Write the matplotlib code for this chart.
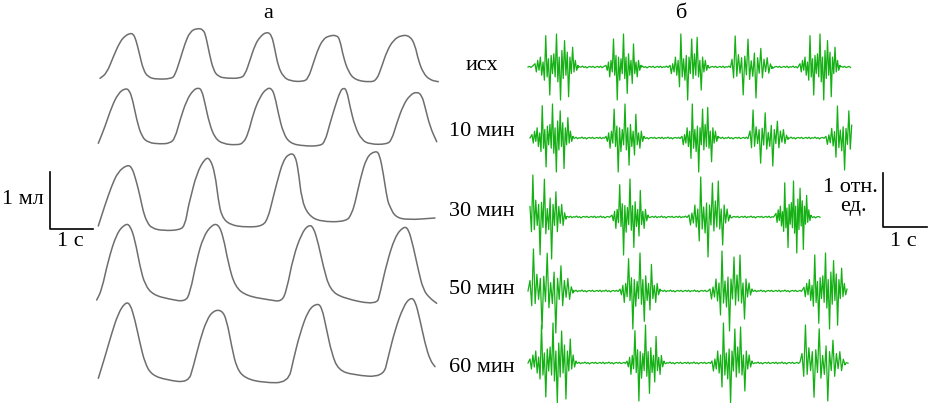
import numpy as np
import matplotlib
matplotlib.use("Agg")
import matplotlib.pyplot as plt
from matplotlib.path import Path
from matplotlib.patches import PathPatch

# ---- panel "а": breathing volume traces (x, y, px) ----
resp_x = [
    [100, 106.7, 113.3, 120, 125, 130, 133.3, 136, 139.3, 143.3, 148.3, 156.7, 171.7, 175, 180, 185, 190,
     196.7, 203.3, 206, 209.3, 213.3, 218.3, 226.7, 240, 245, 250, 255, 260, 266.7, 271.7, 275, 278.3,
     283.3, 290, 303.3, 308.3, 313.3, 318.3, 323.3, 328.3, 336.7, 340, 343.3, 348.3, 355, 370, 376.7,
     381.7, 386.7, 393.3, 401.7, 410, 415, 418.3, 423.3, 430, 438.3],
    [98.3, 105, 111.7, 118.3, 125, 129.3, 132.7, 136.7, 141.7, 148.3, 160, 170, 175, 180, 186.7, 193.3,
     198.3, 201.7, 205, 209.3, 215, 223.3, 236.7, 243.3, 248.3, 253.3, 260, 266.7, 271.7, 275, 278.3,
     283.3, 290, 303.3, 320, 325, 330, 335, 340, 343.3, 346.7, 350, 355, 361.7, 370, 386.7, 391.7, 396.7,
     403.3, 410, 416.7, 421.7, 425, 430, 436.7],
    [98.3, 105, 112, 118, 126.7, 131.7, 136, 140, 143.3, 147, 151.7, 163.3, 180, 185, 188.3, 190, 196.7,
     205, 210, 215, 218.3, 221.7, 230, 246.7, 263.3, 268.3, 271.7, 276.7, 283.3, 290, 295, 298.3, 301.7,
     308.3, 320, 346.7, 351.7, 355, 360, 366.7, 375, 379.3, 383.3, 387.3, 390, 395, 406.7, 435],
    [96.7, 101.7, 108.3, 116.7, 125, 130, 135, 140, 145, 153.3, 170, 185, 190, 196.7, 203.3, 211.7, 218.3,
     223.3, 228.3, 235, 246.7, 270, 281.7, 286.7, 293.3, 301.7, 308.3, 313.3, 318.3, 323.3, 330, 343.3,
     376.7, 380, 386.7, 395, 403.3, 408.3, 413.3, 418.3, 423.3, 430, 436.7],
    [98.3, 105, 111.7, 118.3, 125, 130, 135, 140, 145, 151.7, 166.7, 188.3, 193.3, 200, 206.7, 213.3,
     221.7, 226.7, 231.7, 236.7, 245, 263.3, 288.3, 293.3, 300, 308.3, 316.7, 321.7, 326.7, 331.7, 338.3,
     353.3, 383.3, 388.3, 395, 403.3, 410, 415, 420, 425, 430, 435],
]
resp_y = [
    [78.3, 73.3, 56.7, 41.7, 36, 33.3, 34, 40, 53.3, 70, 77.3, 79.3, 78.7, 75, 60, 43.3, 31.7, 28.3, 29.3,
     36.7, 53.3, 70, 76.7, 78.3, 78.3, 75, 60, 45, 36.7, 31.7, 35, 50, 66.7, 76.7, 81, 81.7, 78.3, 63.3,
     48.3, 39.3, 36, 35, 40, 56.7, 71.7, 80, 82.3, 80, 66.7, 51.7, 40, 35, 36, 45, 60, 73.3, 80, 81.7],
    [143.3, 126.7, 106.7, 93.3, 88.3, 90, 100, 120, 136.7, 142.7, 144, 143.3, 138.3, 120, 100, 90, 87.7,
     90, 103.3, 123.3, 138.3, 144, 145, 143.3, 133.3, 113.3, 96.7, 88.3, 88.3, 96.7, 113.3, 133.3, 143.3,
     146, 146, 141.7, 123.3, 106.7, 91.7, 87.7, 90, 106.7, 126.7, 140, 144.3, 144.3, 140, 123.3, 105, 95,
     91.7, 95, 106.7, 126.7, 141.7],
    [226, 205, 185, 172, 165, 166.7, 180, 196, 212, 222, 228.3, 230.7, 230, 225, 206.7, 200, 173.3, 158.3,
     158.3, 173.3, 200, 216.7, 225, 227.3, 226, 216.7, 203.3, 183.3, 160, 153.3, 155, 170, 200, 215, 221.7,
     221.7, 213.3, 203.3, 180, 156.7, 151, 153.3, 173.3, 200, 206.7, 216.7, 220, 218],
    [300, 290, 260, 233.3, 224, 225, 240, 266.7, 285, 295, 299.3, 301.7, 293.3, 260, 236.7, 225, 224,
     236.7, 263.3, 286.7, 296, 300, 301.7, 290, 256.7, 233.3, 225, 226.7, 243.3, 266.7, 290, 298.3, 305,
     293.3, 263.3, 236.7, 226.7, 228.3, 246.7, 270, 290, 298.3, 303.3],
    [378.3, 356.7, 333.3, 313.3, 302.7, 303.3, 320, 343.3, 363.3, 375, 380, 382.7, 366.7, 340, 320, 310.7,
     310, 320, 346.7, 368.3, 378.3, 382.7, 382.7, 360, 333.3, 310, 303.3, 306.7, 330, 353.3, 370, 375,
     377.3, 356.7, 330, 306.7, 297.7, 300, 320, 343.3, 360, 366.7],
]

# ---- panel "б": EMG traces ----
row_labels = ["исх", "10 мин", "30 мин", "50 мин", "60 мин"]
label_y = [65, 132, 212, 290, 367]
emg_base = [67, 138, 217, 291, 363]
emg_start = [528, 530, 530, 528, 528]
emg_end = [852, 852, 822, 848, 850]
# bursts: (start, end, amplitude, template)
emg_bursts = [
    [(535, 578, 33, 0), (606, 641, 33, 1), (670, 708, 33, 3), (732, 772, 31, 2), (800, 840, 33, 0)],
    [(532, 573, 34, 0), (606, 644, 34, 1), (682, 718, 34, 3), (750, 788, 28, 2), (826, 866, 32, 3)],
    [(530, 566, 42, 2), (612, 648, 38, 1), (689, 730, 40, 3), (776, 811, 36, 0)],
    [(530, 573, 42, 2), (620, 660, 38, 1), (710, 752, 40, 3), (804, 847, 38, 0)],
    [(530, 576, 40, 0), (627, 664, 38, 1), (712, 752, 40, 3), (802, 845, 38, 2)],
]
burst_templates = [
    [0.1, -0.15, 0.2, -0.1, 0.3, -0.25, 0.15, -0.4, 0.95, -0.3, 0.25, -0.85, 0.35, -0.2, 0.4, -0.3, 1.0,
     -0.45, 0.3, -1.0, 0.5, -0.35, 0.8, -0.25, 0.45, -0.9, 0.3, -0.2, 0.6, -0.15, 0.2, -0.1, 0.05],
    [0.05, -0.1, 0.15, -0.3, 0.2, -0.15, 0.85, -0.25, 0.35, -1.0, 0.3, -0.4, 0.25, -0.2, 1.0, -0.35, 0.3,
     -0.8, 0.4, -0.25, 0.2, -0.5, 0.7, -0.2, 0.15, -0.3, 0.2, -0.1, 0.05],
    [0.25, -0.35, 1.0, -0.3, 0.4, -0.2, 0.3, -0.9, 0.35, -0.25, 0.9, -0.4, 0.2, -0.3, 0.45, -1.0, 0.3,
     -0.2, 0.6, -0.35, 0.25, -0.15, 0.3, -0.2, 0.1, -0.05],
    [0.05, -0.2, 0.1, -0.15, 0.3, -0.25, 0.2, -0.6, 1.0, -0.3, 0.25, -0.4, 0.35, -1.0, 0.3, -0.2, 0.85,
     -0.35, 0.4, -0.25, 0.9, -0.3, 0.2, -0.7, 0.3, -0.15, 0.2, -0.1, 0.05],
]
baseline_noise = [0.0, 0.6, -0.4, 0.8, -0.7, 0.3, -0.2, 0.9, -0.5, 0.4, -0.9, 0.2, 0.5, -0.3, 0.7, -0.6]

GRAY = '#6e6e6e'
GREEN = '#14b014'
FONT = 'Liberation Serif'


def smooth_patch(xs, ys, **kw):
    # quadratic bezier through the midpoints of the read-off vertices
    pts = np.column_stack([xs, ys])
    mids = (pts[:-1] + pts[1:]) / 2
    verts = [pts[0], mids[0]]
    codes = [Path.MOVETO, Path.LINETO]
    for i in range(1, len(pts) - 1):
        verts += [pts[i], mids[i]]
        codes += [Path.CURVE3, Path.CURVE3]
    verts.append(pts[-1])
    codes.append(Path.LINETO)
    return PathPatch(Path(verts, codes), fill=False, **kw)


def emg_line(x0, x1, base, bursts):
    xs, ys = [], []
    cur, k = x0, 0
    for b0, b1, amp, t in bursts + [(x1, x1, 0, None)]:
        n = int((b0 - cur) / 1.5)
        for i in range(n):
            xs.append(cur + i * 1.5)
            ys.append(base - baseline_noise[k % len(baseline_noise)])
            k += 1
        if t is not None:
            tpl = burst_templates[t]
            xs += list(np.linspace(b0, b1, len(tpl)))
            ys += [base - amp * v for v in tpl]
        cur = b1
    keep = [j for j, x in enumerate(xs) if x <= x1]  # last burst may be cut by the record end
    return [xs[j] for j in keep], [ys[j] for j in keep]


fig = plt.figure(figsize=(9.3, 4.03), dpi=100)
ax = fig.add_axes([0, 0, 1, 1])
ax.set_xlim(0, 930)
ax.set_ylim(403, 0)
ax.axis('off')

for xs, ys in zip(resp_x, resp_y):
    ax.add_patch(smooth_patch(xs, ys, edgecolor=GRAY, linewidth=1.1, capstyle='round', joinstyle='round'))

for i in range(len(row_labels)):
    xs, ys = emg_line(emg_start[i], emg_end[i], emg_base[i], emg_bursts[i])
    ax.plot(xs, ys, color=GREEN, linewidth=0.9)
    ax.text(482, label_y[i], row_labels[i], ha='center', va='center', fontsize=16, family=FONT)

# panel letters
ax.text(268, 13, 'а', ha='center', va='center', fontsize=16, family=FONT)
ax.text(682, 13, 'б', ha='center', va='center', fontsize=16, family=FONT)

# scale bars
ax.plot([50, 50, 93], [172, 229, 229], color='black', linewidth=1.2)
ax.text(23, 200, '1 мл', ha='center', va='center', fontsize=16, family=FONT)
ax.text(70, 242, '1 с', ha='center', va='center', fontsize=16, family=FONT)

ax.plot([883, 883, 927], [173, 227, 227], color='black', linewidth=1.2)
ax.text(850, 188, '1 отн.', ha='center', va='center', fontsize=16, family=FONT)
ax.text(853, 207, 'ед.', ha='center', va='center', fontsize=16, family=FONT)
ax.text(903, 241, '1 с', ha='center', va='center', fontsize=16, family=FONT)

fig.savefig('out.png', dpi=100)
